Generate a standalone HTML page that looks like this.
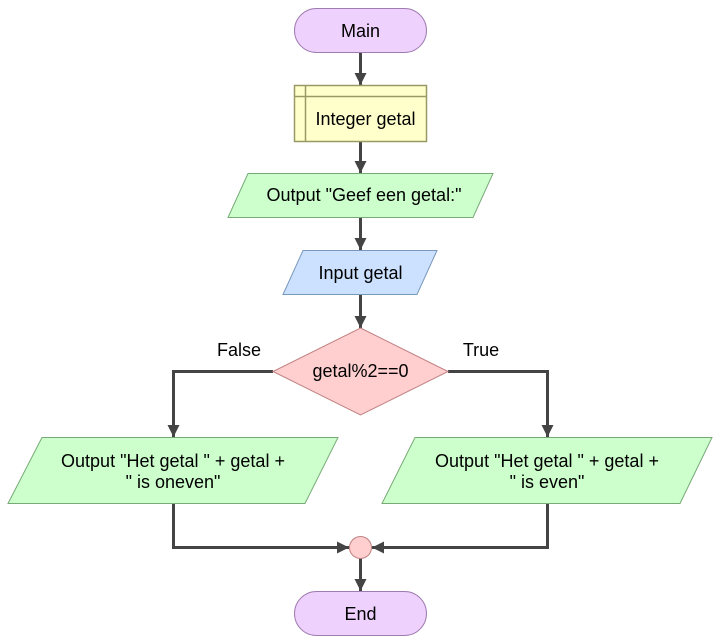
<!DOCTYPE html>
<html><head><style>body{margin:0;background:#fff}svg{display:block}</style></head>
<body>
<svg width="721" height="644" xmlns="http://www.w3.org/2000/svg" font-family="Liberation Sans, Arial, sans-serif" font-size="18">
<defs>
<marker id="a" viewBox="0 0 10 10" refX="10" refY="5" markerWidth="4" markerHeight="4" orient="auto" markerUnits="strokeWidth"><path d="M0,0L10,5L0,10z" fill="#444"/></marker>
</defs>
<g stroke="#444" stroke-width="3" fill="none">
<path d="M360.5 52V85" marker-end="url(#a)"/>
<path d="M360.5 141V173" marker-end="url(#a)"/>
<path d="M360.5 217V250" marker-end="url(#a)"/>
<path d="M360.5 294V328" marker-end="url(#a)"/>
<path d="M273 371.5H173.5V437" marker-end="url(#a)"/>
<path d="M448 371.5H547.5V437" marker-end="url(#a)"/>
<path d="M173.5 503V547.5H349" marker-end="url(#a)"/>
<path d="M547.5 503V547.5H372" marker-end="url(#a)"/>
<path d="M360.5 558V591" marker-end="url(#a)"/>
</g>
<rect x="294.5" y="8.5" width="132" height="44" rx="22" fill="#eed1fc" stroke="#a07cb0"/>
<text x="360.5" y="37" text-anchor="middle">Main</text>
<rect x="294.5" y="85.5" width="132" height="56" fill="#ffffcc" stroke="#999966" stroke-width="1.5"/>
<path d="M305.5 85.5V141.5M294.5 96.5H426.5" stroke="#999966" stroke-width="1.5"/>
<text x="365.5" y="125" text-anchor="middle">Integer getal</text>
<polygon points="248,173.5 493,173.5 473,217.5 228,217.5" fill="#ccffcc" stroke="#77aa77"/>
<text x="364" y="201" text-anchor="middle">Output "Geef een getal:"</text>
<polygon points="303,250.5 437,250.5 417,294.5 283,294.5" fill="#cce0ff" stroke="#7799bb"/>
<text x="360.5" y="279" text-anchor="middle">Input getal</text>
<polygon points="360.5,328 448,371.5 360.5,415 273,371.5" fill="#ffcfcf" stroke="#c08080"/>
<text x="360.5" y="377" text-anchor="middle">getal%2==0</text>
<text x="239" y="356" text-anchor="middle">False</text>
<text x="481" y="356" text-anchor="middle">True</text>
<polygon points="42,437.5 338,437.5 305,503.5 8,503.5" fill="#ccffcc" stroke="#77aa77"/>
<text x="173" y="467" text-anchor="middle">Output "Het getal " + getal +</text>
<text x="173" y="488" text-anchor="middle">" is oneven"</text>
<polygon points="415,437.5 712,437.5 680,503.5 382,503.5" fill="#ccffcc" stroke="#77aa77"/>
<text x="547" y="467" text-anchor="middle">Output "Het getal " + getal +</text>
<text x="547" y="488" text-anchor="middle">" is even"</text>
<circle cx="360.5" cy="547.5" r="11" fill="#ffcfcf" stroke="#c08080"/>
<rect x="294.5" y="591.5" width="132" height="44" rx="22" fill="#eed1fc" stroke="#a07cb0"/>
<text x="360.5" y="620" text-anchor="middle">End</text>
</svg>
</body></html>
